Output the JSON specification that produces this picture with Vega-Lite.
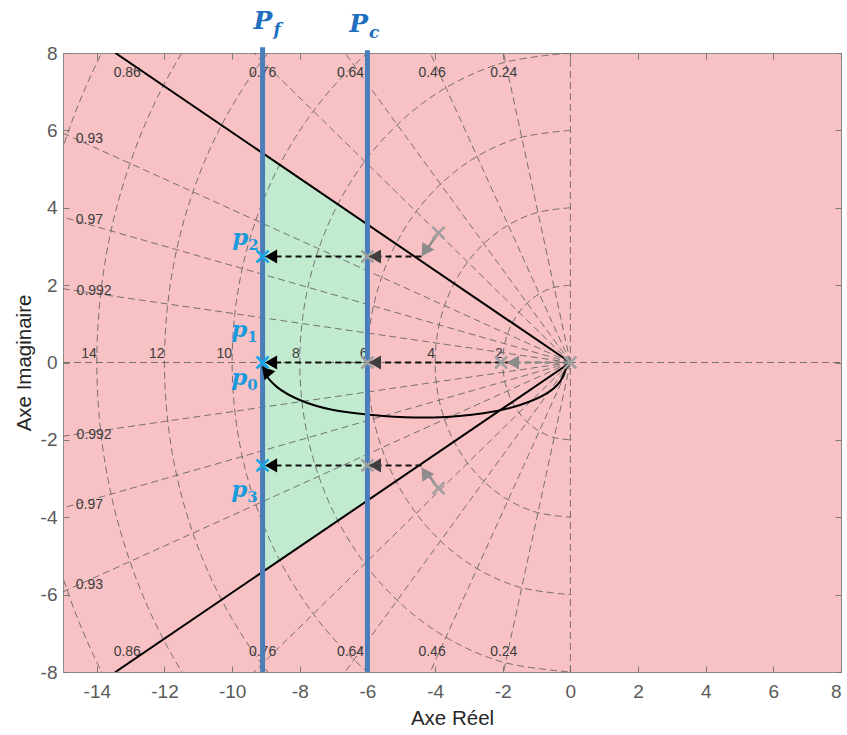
{
  "$schema": "https://vega.github.io/schema/vega-lite/v6.json",
  "width": 778,
  "height": 619,
  "autosize": {"type": "none"},
  "padding": {"left": 63, "top": 53, "right": 6, "bottom": 63},
  "config": {
    "view": {"stroke": "#8a8a8a", "strokeWidth": 1, "fill": "#f8c1c4"},
    "font": "Liberation Sans"
  },
  "datasets": {
    "green": [{"x": -9.1, "hi": 5.41, "lo": -5.41}, {"x": -6, "hi": 3.57, "lo": -3.57}],
    "circles": [
      {"w": 2, "i": 0, "x": 0, "y": 2}, {"w": 2, "i": 1, "x": -0.518, "y": 1.932}, {"w": 2, "i": 2, "x": -1, "y": 1.732}, {"w": 2, "i": 3, "x": -1.414, "y": 1.414}, {"w": 2, "i": 4, "x": -1.732, "y": 1}, {"w": 2, "i": 5, "x": -1.932, "y": 0.518}, {"w": 2, "i": 6, "x": -2, "y": 0}, {"w": 2, "i": 7, "x": -1.932, "y": -0.518}, {"w": 2, "i": 8, "x": -1.732, "y": -1}, {"w": 2, "i": 9, "x": -1.414, "y": -1.414}, {"w": 2, "i": 10, "x": -1, "y": -1.732}, {"w": 2, "i": 11, "x": -0.518, "y": -1.932}, {"w": 2, "i": 12, "x": 0, "y": -2},
      {"w": 4, "i": 0, "x": 0, "y": 4}, {"w": 4, "i": 1, "x": -1.035, "y": 3.864}, {"w": 4, "i": 2, "x": -2, "y": 3.464}, {"w": 4, "i": 3, "x": -2.828, "y": 2.828}, {"w": 4, "i": 4, "x": -3.464, "y": 2}, {"w": 4, "i": 5, "x": -3.864, "y": 1.035}, {"w": 4, "i": 6, "x": -4, "y": 0}, {"w": 4, "i": 7, "x": -3.864, "y": -1.035}, {"w": 4, "i": 8, "x": -3.464, "y": -2}, {"w": 4, "i": 9, "x": -2.828, "y": -2.828}, {"w": 4, "i": 10, "x": -2, "y": -3.464}, {"w": 4, "i": 11, "x": -1.035, "y": -3.864}, {"w": 4, "i": 12, "x": 0, "y": -4},
      {"w": 6, "i": 0, "x": 0, "y": 6}, {"w": 6, "i": 1, "x": -1.553, "y": 5.796}, {"w": 6, "i": 2, "x": -3, "y": 5.196}, {"w": 6, "i": 3, "x": -4.243, "y": 4.243}, {"w": 6, "i": 4, "x": -5.196, "y": 3}, {"w": 6, "i": 5, "x": -5.796, "y": 1.553}, {"w": 6, "i": 6, "x": -6, "y": 0}, {"w": 6, "i": 7, "x": -5.796, "y": -1.553}, {"w": 6, "i": 8, "x": -5.196, "y": -3}, {"w": 6, "i": 9, "x": -4.243, "y": -4.243}, {"w": 6, "i": 10, "x": -3, "y": -5.196}, {"w": 6, "i": 11, "x": -1.553, "y": -5.796}, {"w": 6, "i": 12, "x": 0, "y": -6},
      {"w": 8, "i": 0, "x": 0, "y": 8}, {"w": 8, "i": 1, "x": -2.071, "y": 7.727}, {"w": 8, "i": 2, "x": -4, "y": 6.928}, {"w": 8, "i": 3, "x": -5.657, "y": 5.657}, {"w": 8, "i": 4, "x": -6.928, "y": 4}, {"w": 8, "i": 5, "x": -7.727, "y": 2.071}, {"w": 8, "i": 6, "x": -8, "y": 0}, {"w": 8, "i": 7, "x": -7.727, "y": -2.071}, {"w": 8, "i": 8, "x": -6.928, "y": -4}, {"w": 8, "i": 9, "x": -5.657, "y": -5.657}, {"w": 8, "i": 10, "x": -4, "y": -6.928}, {"w": 8, "i": 11, "x": -2.071, "y": -7.727}, {"w": 8, "i": 12, "x": 0, "y": -8},
      {"w": 10, "i": 0, "x": 0, "y": 10}, {"w": 10, "i": 1, "x": -2.588, "y": 9.659}, {"w": 10, "i": 2, "x": -5, "y": 8.66}, {"w": 10, "i": 3, "x": -7.071, "y": 7.071}, {"w": 10, "i": 4, "x": -8.66, "y": 5}, {"w": 10, "i": 5, "x": -9.659, "y": 2.588}, {"w": 10, "i": 6, "x": -10, "y": 0}, {"w": 10, "i": 7, "x": -9.659, "y": -2.588}, {"w": 10, "i": 8, "x": -8.66, "y": -5}, {"w": 10, "i": 9, "x": -7.071, "y": -7.071}, {"w": 10, "i": 10, "x": -5, "y": -8.66}, {"w": 10, "i": 11, "x": -2.588, "y": -9.659}, {"w": 10, "i": 12, "x": 0, "y": -10},
      {"w": 12, "i": 0, "x": 0, "y": 12}, {"w": 12, "i": 1, "x": -3.106, "y": 11.591}, {"w": 12, "i": 2, "x": -6, "y": 10.392}, {"w": 12, "i": 3, "x": -8.485, "y": 8.485}, {"w": 12, "i": 4, "x": -10.392, "y": 6}, {"w": 12, "i": 5, "x": -11.591, "y": 3.106}, {"w": 12, "i": 6, "x": -12, "y": 0}, {"w": 12, "i": 7, "x": -11.591, "y": -3.106}, {"w": 12, "i": 8, "x": -10.392, "y": -6}, {"w": 12, "i": 9, "x": -8.485, "y": -8.485}, {"w": 12, "i": 10, "x": -6, "y": -10.392}, {"w": 12, "i": 11, "x": -3.106, "y": -11.591}, {"w": 12, "i": 12, "x": 0, "y": -12},
      {"w": 14, "i": 0, "x": 0, "y": 14}, {"w": 14, "i": 1, "x": -3.623, "y": 13.523}, {"w": 14, "i": 2, "x": -7, "y": 12.124}, {"w": 14, "i": 3, "x": -9.899, "y": 9.899}, {"w": 14, "i": 4, "x": -12.124, "y": 7}, {"w": 14, "i": 5, "x": -13.523, "y": 3.623}, {"w": 14, "i": 6, "x": -14, "y": 0}, {"w": 14, "i": 7, "x": -13.523, "y": -3.623}, {"w": 14, "i": 8, "x": -12.124, "y": -7}, {"w": 14, "i": 9, "x": -9.899, "y": -9.899}, {"w": 14, "i": 10, "x": -7, "y": -12.124}, {"w": 14, "i": 11, "x": -3.623, "y": -13.523}, {"w": 14, "i": 12, "x": 0, "y": -14},
      {"w": 16, "i": 0, "x": 0, "y": 16}, {"w": 16, "i": 1, "x": -4.141, "y": 15.455}, {"w": 16, "i": 2, "x": -8, "y": 13.856}, {"w": 16, "i": 3, "x": -11.314, "y": 11.314}, {"w": 16, "i": 4, "x": -13.856, "y": 8}, {"w": 16, "i": 5, "x": -15.455, "y": 4.141}, {"w": 16, "i": 6, "x": -16, "y": 0}, {"w": 16, "i": 7, "x": -15.455, "y": -4.141}, {"w": 16, "i": 8, "x": -13.856, "y": -8}, {"w": 16, "i": 9, "x": -11.314, "y": -11.314}, {"w": 16, "i": 10, "x": -8, "y": -13.856}, {"w": 16, "i": 11, "x": -4.141, "y": -15.455}, {"w": 16, "i": 12, "x": 0, "y": -16}
    ],
    "zlines": [
      {"x": 0, "y": 0, "x2": -4.8, "y2": 19.42}, {"x": 0, "y": 0, "x2": -4.8, "y2": -19.42},
      {"x": 0, "y": 0, "x2": -9.2, "y2": 17.76}, {"x": 0, "y": 0, "x2": -9.2, "y2": -17.76},
      {"x": 0, "y": 0, "x2": -12.8, "y2": 15.37}, {"x": 0, "y": 0, "x2": -12.8, "y2": -15.37},
      {"x": 0, "y": 0, "x2": -15.2, "y2": 13.0}, {"x": 0, "y": 0, "x2": -15.2, "y2": -13.0},
      {"x": 0, "y": 0, "x2": -17.2, "y2": 10.21}, {"x": 0, "y": 0, "x2": -17.2, "y2": -10.21},
      {"x": 0, "y": 0, "x2": -18.6, "y2": 7.35}, {"x": 0, "y": 0, "x2": -18.6, "y2": -7.35},
      {"x": 0, "y": 0, "x2": -19.4, "y2": 4.86}, {"x": 0, "y": 0, "x2": -19.4, "y2": -4.86},
      {"x": 0, "y": 0, "x2": -19.84, "y2": 2.52}, {"x": 0, "y": 0, "x2": -19.84, "y2": -2.52},
      {"x": 0, "y": -8, "x2": 0, "y2": 8}, {"x": -15, "y": 0, "x2": 8, "y2": 0}
    ],
    "wnlabels": [
      {"t": "14", "x": -14, "y": 0}, {"t": "12", "x": -12, "y": 0}, {"t": "10", "x": -10, "y": 0},
      {"t": "8", "x": -8, "y": 0}, {"t": "6", "x": -6, "y": 0}, {"t": "4", "x": -4, "y": 0}, {"t": "2", "x": -2, "y": 0}
    ],
    "zlabels": [
      {"t": "0.86", "x": -13.1, "y": 7.48}, {"t": "0.76", "x": -9.1, "y": 7.48}, {"t": "0.64", "x": -6.5, "y": 7.48}, {"t": "0.46", "x": -4.09, "y": 7.48}, {"t": "0.24", "x": -1.97, "y": 7.48},
      {"t": "0.86", "x": -13.1, "y": -7.48}, {"t": "0.76", "x": -9.1, "y": -7.48}, {"t": "0.64", "x": -6.5, "y": -7.48}, {"t": "0.46", "x": -4.09, "y": -7.48}, {"t": "0.24", "x": -1.97, "y": -7.48},
      {"t": "0.93", "x": -14.22, "y": 5.78}, {"t": "0.97", "x": -14.22, "y": 3.69}, {"t": "0.992", "x": -14.08, "y": 1.86},
      {"t": "0.992", "x": -14.08, "y": -1.88}, {"t": "0.97", "x": -14.22, "y": -3.69}, {"t": "0.93", "x": -14.22, "y": -5.75}
    ],
    "damp": [
      {"x": 0, "y": 0, "x2": -13.45, "y2": 8}, {"x": 0, "y": 0, "x2": -13.45, "y2": -8}
    ],
    "curve": [
      {"i": 0, "x": 0, "y": 0}, {"i": 1, "x": -0.11, "y": -0.13}, {"i": 2, "x": -0.31, "y": -0.5}, {"i": 3, "x": -0.7, "y": -0.8},
      {"i": 4, "x": -1.49, "y": -1.1}, {"i": 5, "x": -2.57, "y": -1.31}, {"i": 6, "x": -4.05, "y": -1.42}, {"i": 7, "x": -5.53, "y": -1.38},
      {"i": 8, "x": -7.01, "y": -1.23}, {"i": 9, "x": -8.0, "y": -0.97}, {"i": 10, "x": -8.68, "y": -0.63}, {"i": 11, "x": -9.03, "y": -0.28}, {"i": 12, "x": -9.12, "y": -0.04}
    ],
    "blue": [
      {"name": "Pf", "x": -9.1, "y": 8.15, "y2": -8},
      {"name": "Pc", "x": -6, "y": 8.07, "y2": -8}
    ],
    "graysolid": [
      {"x": -3.9, "y": 3.35, "x2": -4.25, "y2": 2.92},
      {"x": -3.9, "y": -3.25, "x2": -4.25, "y2": -2.85}
    ],
    "blackdash": [
      {"x": -4.4, "x2": -8.9, "y": 2.74},
      {"x": -1.75, "x2": -8.9, "y": 0},
      {"x": -4.4, "x2": -8.9, "y": -2.66}
    ],
    "graydash": [
      {"x": 0, "x2": -1.6, "y": 0}
    ],
    "graycross": [
      {"x": 0, "y": 0}, {"x": -2.05, "y": 0}, {"x": -3.9, "y": 3.35}, {"x": -3.9, "y": -3.25},
      {"x": -6, "y": 2.74}, {"x": -6, "y": 0}, {"x": -6, "y": -2.66}
    ],
    "triBlack": [{"x": -8.85, "y": 2.74}, {"x": -8.85, "y": 0}, {"x": -8.85, "y": -2.66}],
    "triDark": [{"x": -5.78, "y": 2.74}, {"x": -5.78, "y": 0}, {"x": -5.78, "y": -2.66}],
    "triGrayLeft": [{"x": -1.7, "y": 0}],
    "triGrayUp": [{"x": -4.3, "y": 2.88}],
    "triGrayLow": [{"x": -4.3, "y": -2.85}],
    "triCurve": [{"x": -9.0, "y": -0.22}],
    "poles": [{"x": -9.1, "y": 2.74}, {"x": -9.1, "y": 0}, {"x": -9.1, "y": -2.66}],
    "Plab": [
      {"main": "P", "sub": "f", "x": -8.81, "y": 8.62},
      {"main": "P", "sub": "c", "x": -5.98, "y": 8.54}
    ],
    "plab": [
      {"main": "p", "sub": "2", "x": -9.52, "y": 3.04},
      {"main": "p", "sub": "1", "x": -9.55, "y": 0.66},
      {"main": "p", "sub": "0", "x": -9.55, "y": -0.58},
      {"main": "p", "sub": "3", "x": -9.55, "y": -3.48}
    ]
  },
  "encoding": {
    "x": {"field": "x", "type": "quantitative", "scale": {"domain": [-15, 8], "nice": false, "zero": false}, "axis": null},
    "y": {"field": "y", "type": "quantitative", "scale": {"domain": [-8, 8], "nice": false, "zero": false}, "axis": null}
  },
  "layer": [
    {
      "data": {"name": "green"},
      "mark": {"type": "area", "color": "#c2eacf", "opacity": 1},
      "encoding": {
        "x": {"field": "x", "type": "quantitative", "scale": {"domain": [-15, 8], "nice": false, "zero": false},
          "axis": {"orient": "bottom", "values": [-14, -12, -10, -8, -6, -4, -2, 0, 2, 4, 6, 8], "grid": false, "domain": false,
            "labelExpr": "datum.value < 0 ? '-' + abs(datum.value) : '' + datum.value",
            "tickSize": -6, "tickColor": "#7a7a7a", "labelPadding": 16, "labelFontSize": 19, "labelColor": "#5a5a5a", "labelFont": "Liberation Sans",
            "title": "Axe Réel", "titleFontSize": 20.5, "titleFontWeight": "normal", "titleColor": "#262626", "titleFont": "Liberation Sans", "titlePadding": 7}},
        "y": {"field": "hi", "type": "quantitative", "scale": {"domain": [-8, 8], "nice": false, "zero": false},
          "axis": {"orient": "left", "values": [-8, -6, -4, -2, 0, 2, 4, 6, 8], "grid": false, "domain": false,
            "labelExpr": "datum.value < 0 ? '-' + abs(datum.value) : '' + datum.value",
            "tickSize": -6, "tickColor": "#7a7a7a", "labelPadding": 12, "labelFontSize": 19, "labelColor": "#5a5a5a", "labelFont": "Liberation Sans",
            "title": "Axe Imaginaire", "titleFontSize": 20.5, "titleFontWeight": "normal", "titleColor": "#262626", "titleFont": "Liberation Sans", "titlePadding": 6}},
        "y2": {"field": "lo"}
      }
    },
    {
      "data": {"name": "circles"},
      "mark": {"type": "line", "clip": true, "interpolate": "catmull-rom", "color": "#606060", "strokeWidth": 1, "strokeDash": [7, 4], "opacity": 0.85},
      "encoding": {
        "x": {"field": "x", "type": "quantitative", "scale": {"domain": [-15, 8], "nice": false, "zero": false},
          "axis": {"orient": "top", "values": [-14, -12, -10, -8, -6, -4, -2, 0, 2, 4, 6, 8], "grid": false, "domain": false, "labels": false, "title": null, "tickSize": -6, "tickColor": "#7a7a7a"}},
        "y": {"field": "y", "type": "quantitative", "scale": {"domain": [-8, 8], "nice": false, "zero": false},
          "axis": {"orient": "right", "values": [-8, -6, -4, -2, 0, 2, 4, 6, 8], "grid": false, "domain": false, "labels": false, "title": null, "tickSize": -6, "tickColor": "#7a7a7a"}},
        "detail": {"field": "w", "type": "nominal"},
        "order": {"field": "i", "type": "quantitative"}
      }
    },
    {
      "data": {"name": "zlines"},
      "mark": {"type": "rule", "clip": true, "color": "#606060", "strokeWidth": 1, "strokeDash": [7, 4], "opacity": 0.85},
      "encoding": {"x2": {"field": "x2"}, "y2": {"field": "y2"}}
    },
    {
      "data": {"name": "wnlabels"},
      "mark": {"type": "text", "align": "right", "baseline": "bottom", "dy": -2, "fontSize": 14, "color": "#3c3c3c", "font": "Liberation Sans"},
      "encoding": {"text": {"field": "t"}}
    },
    {
      "data": {"name": "zlabels"},
      "mark": {"type": "text", "align": "center", "baseline": "middle", "fontSize": 14, "color": "#3c3c3c", "font": "Liberation Sans"},
      "encoding": {"text": {"field": "t"}}
    },
    {
      "data": {"name": "damp"},
      "mark": {"type": "rule", "clip": true, "color": "#000000", "strokeWidth": 2},
      "encoding": {"x2": {"field": "x2"}, "y2": {"field": "y2"}}
    },
    {
      "data": {"name": "curve"},
      "mark": {"type": "line", "interpolate": "catmull-rom", "color": "#000000", "strokeWidth": 2},
      "encoding": {"order": {"field": "i", "type": "quantitative"}}
    },
    {
      "data": {"name": "blue"},
      "mark": {"type": "rule", "color": "#4a7ebb", "strokeWidth": 5},
      "encoding": {"y2": {"field": "y2"}}
    },
    {
      "data": {"name": "graysolid"},
      "mark": {"type": "rule", "color": "#8c8c8c", "strokeWidth": 2.5},
      "encoding": {"x2": {"field": "x2"}, "y2": {"field": "y2"}}
    },
    {
      "data": {"name": "graydash"},
      "mark": {"type": "rule", "color": "#8c8c8c", "strokeWidth": 2.5, "strokeDash": [6, 4]},
      "encoding": {"x2": {"field": "x2"}}
    },
    {
      "data": {"name": "blackdash"},
      "mark": {"type": "rule", "color": "#111111", "strokeWidth": 2, "strokeDash": [6, 4]},
      "encoding": {"x2": {"field": "x2"}}
    },
    {
      "data": {"name": "graycross"},
      "mark": {"type": "point", "shape": "M-1,-1L1,1M-1,1L1,-1", "filled": false, "size": 144, "strokeWidth": 2.5, "color": "#a0a0a0", "opacity": 1}
    },
    {
      "data": {"name": "triBlack"},
      "mark": {"type": "point", "shape": "triangle-left", "filled": true, "size": 200, "color": "#000000", "opacity": 1}
    },
    {
      "data": {"name": "triDark"},
      "mark": {"type": "point", "shape": "triangle-left", "filled": true, "size": 200, "color": "#3f3f3f", "opacity": 1}
    },
    {
      "data": {"name": "triGrayLeft"},
      "mark": {"type": "point", "shape": "triangle-left", "filled": true, "size": 200, "color": "#8c8c8c", "opacity": 1}
    },
    {
      "data": {"name": "triGrayUp"},
      "mark": {"type": "point", "shape": "triangle-up", "angle": 213, "filled": true, "size": 200, "color": "#8c8c8c", "opacity": 1}
    },
    {
      "data": {"name": "triGrayLow"},
      "mark": {"type": "point", "shape": "triangle-up", "angle": 327, "filled": true, "size": 200, "color": "#8c8c8c", "opacity": 1}
    },
    {
      "data": {"name": "triCurve"},
      "mark": {"type": "point", "shape": "triangle-up", "angle": 320, "filled": true, "size": 200, "color": "#000000", "opacity": 1}
    },
    {
      "data": {"name": "poles"},
      "mark": {"type": "point", "shape": "M-1,-1L1,1M-1,1L1,-1", "filled": false, "size": 144, "strokeWidth": 2.5, "color": "#18a4e6", "opacity": 1}
    },
    {
      "data": {"name": "Plab"},
      "mark": {"type": "text", "align": "right", "baseline": "alphabetic", "font": "DejaVu Serif", "fontStyle": "italic", "fontWeight": "bold", "fontSize": 25, "color": "#1f6fc0"},
      "encoding": {"text": {"field": "main"}}
    },
    {
      "data": {"name": "Plab"},
      "mark": {"type": "text", "align": "left", "baseline": "alphabetic", "dx": 1, "dy": 6, "font": "DejaVu Serif", "fontStyle": "italic", "fontWeight": "bold", "fontSize": 17, "color": "#1f6fc0"},
      "encoding": {"text": {"field": "sub"}}
    },
    {
      "data": {"name": "plab"},
      "mark": {"type": "text", "align": "right", "baseline": "alphabetic", "font": "DejaVu Serif", "fontStyle": "italic", "fontWeight": "bold", "fontSize": 23, "color": "#1b9bdc"},
      "encoding": {"text": {"field": "main"}}
    },
    {
      "data": {"name": "plab"},
      "mark": {"type": "text", "align": "left", "baseline": "alphabetic", "dx": 0, "dy": 5, "font": "DejaVu Serif", "fontStyle": "normal", "fontWeight": "bold", "fontSize": 15, "color": "#1b9bdc"},
      "encoding": {"text": {"field": "sub"}}
    }
  ]
}
